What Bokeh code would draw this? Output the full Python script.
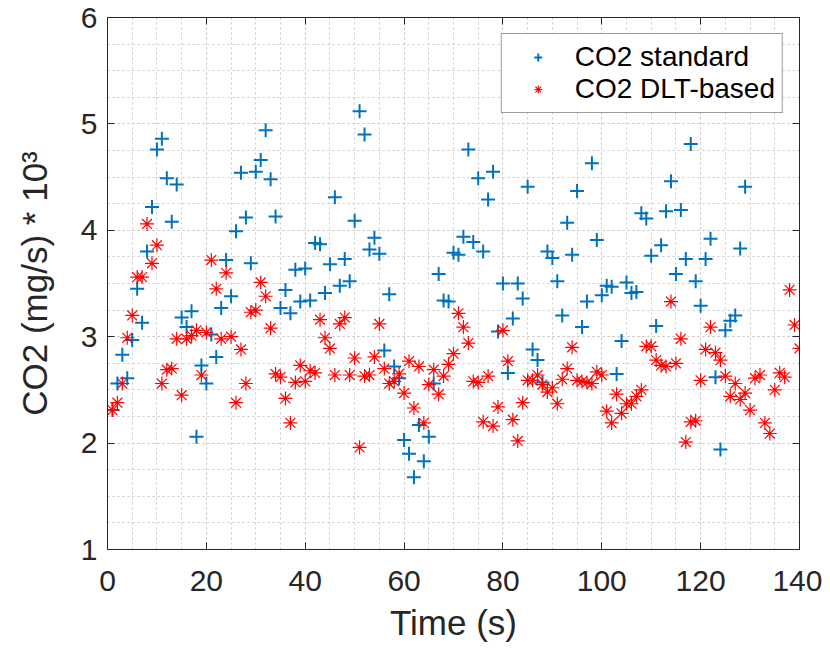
from bokeh.plotting import figure
from bokeh.models import Range1d, LinearAxis, SingleIntervalTicker, CustomJSTickFormatter
from bokeh.embed import file_html
from bokeh.resources import INLINE

# Time (s)
t_std = list(range(1, 130))
t_dlt = list(range(1, 141))

# CO2 standard (mg/s * 10^3)
co2_std = [
    2.31, 2.56, 2.83, 2.61, 2.97, 3.45, 3.13, 3.80, 4.22, 4.76,
    4.86, 4.49, 4.08, 4.43, 3.18, 3.09, 3.24, 2.06, 2.73, 2.56,
    3.02, 2.81, 3.27, 3.72, 3.38, 3.99, 4.54, 4.12, 3.69, 4.55,
    4.66, 4.94, 4.48, 4.13, 3.27, 3.44, 3.22, 3.63, 3.33, 3.64,
    3.34, 3.88, 3.87, 3.41, 3.68, 4.31, 3.48, 3.73, 3.52, 4.09,
    5.12, 4.90, 3.82, 3.93, 3.78, 2.87, 3.40, 2.72, 2.61, 2.03,
    1.90, 1.68, 2.17, 1.83, 2.06, 2.56, 3.59, 3.34, 3.33, 3.79,
    3.77, 3.94, 4.76, 3.89, 4.49, 3.80, 4.29, 4.55, 3.05, 3.50,
    2.66, 3.17, 3.50, 3.36, 4.41, 2.88, 2.78, 2.57, 3.80, 3.74,
    3.52, 3.20, 4.07, 3.77, 4.37, 3.09, 3.33, 4.63, 3.91, 3.39,
    3.48, 3.47, 2.65, 2.96, 3.51, 3.41, 3.42, 4.16, 4.11, 3.76,
    3.10, 3.86, 4.18, 4.46, 3.59, 4.19, 3.73, 4.81, 3.52, 3.29,
    3.73, 3.92, 2.62, 1.94, 3.06, 3.15, 3.20, 3.83, 4.41,
]

# CO2 DLT-based (mg/s * 10^3)
co2_dlt = [
    2.31, 2.38, 2.56, 2.99, 3.20, 3.56, 3.56, 4.06, 3.69, 3.86,
    2.56, 2.69, 2.70, 2.98, 2.45, 2.98, 3.01, 3.06, 2.64, 3.04,
    3.72, 3.45, 2.98, 3.60, 3.00, 2.38, 2.88, 2.56, 3.23, 3.25,
    3.51, 3.38, 3.08, 2.65, 2.62, 2.42, 2.19, 2.57, 2.73, 2.58,
    2.68, 2.66, 3.16, 2.99, 2.89, 2.64, 3.12, 3.18, 2.64, 2.80,
    1.96, 2.63, 2.64, 2.81, 3.12, 2.70, 2.56, 2.58, 2.65, 2.47,
    2.77, 2.33, 2.72, 2.19, 2.55, 2.69, 2.46, 2.63, 2.74, 2.84,
    3.22, 3.09, 2.94, 2.58, 2.57, 2.20, 2.63, 2.16, 2.34, 3.06,
    2.77, 2.22, 2.02, 2.38, 2.59, 2.59, 2.64, 2.55, 2.48, 2.52,
    2.37, 2.60, 2.70, 2.90, 2.59, 2.58, 2.57, 2.56, 2.67, 2.64,
    2.30, 2.19, 2.46, 2.28, 2.37, 2.37, 2.44, 2.50, 2.91, 2.91,
    2.78, 2.73, 2.72, 3.33, 2.75, 2.98, 2.01, 2.20, 2.21, 2.59,
    2.88, 3.09, 2.85, 2.78, 2.63, 2.44, 2.56, 2.41, 2.47, 2.31,
    2.61, 2.64, 2.19, 2.09, 2.50, 2.66, 2.62, 3.44, 3.11, 2.89,
]

x_ticks_interval = 20
y_ticks_interval = 1

FONT = "Liberation Sans"
AX = "#262626"

p = figure(width=822, height=644, x_range=Range1d(0, 140), y_range=Range1d(1, 6),
           output_backend="svg", toolbar_location=None,
           min_border_left=107, min_border_right=23, min_border_top=17, min_border_bottom=93)
p.outline_line_color = None
p.background_fill_color = "white"
p.border_fill_color = "white"

xt = SingleIntervalTicker(interval=x_ticks_interval, num_minor_ticks=4)
yt = SingleIntervalTicker(interval=y_ticks_interval, num_minor_ticks=4)
p.xaxis.ticker = xt
p.yaxis.ticker = yt

for ax in (p.xaxis[0], p.yaxis[0]):
    ax.axis_line_color = AX
    ax.major_tick_line_color = AX
    ax.major_tick_in = 7
    ax.major_tick_out = 0
    ax.minor_tick_in = 0
    ax.minor_tick_out = 0
    ax.major_label_text_font = FONT
    ax.major_label_text_font_size = "30px"
    ax.major_label_text_color = AX
    ax.axis_label_text_font = FONT
    ax.axis_label_text_font_style = "normal"
    ax.axis_label_text_color = AX
    ax.axis_label_text_font_size = "35px"

p.xaxis.axis_label = "Time (s)"
p.yaxis.axis_label = "CO2 (mg/s) * 10\u00b3"
p.xaxis.major_label_standoff = 21
p.yaxis.major_label_standoff = 10
p.xaxis.axis_label_standoff = 9
p.yaxis.axis_label_standoff = 24

blank = CustomJSTickFormatter(code="return ''")
top = LinearAxis(ticker=SingleIntervalTicker(interval=x_ticks_interval, num_minor_ticks=4), formatter=blank)
right = LinearAxis(ticker=SingleIntervalTicker(interval=y_ticks_interval, num_minor_ticks=4), formatter=blank)
for ax in (top, right):
    ax.axis_line_color = AX
    ax.major_tick_line_color = AX
    ax.major_tick_in = 7
    ax.major_tick_out = 0
    ax.minor_tick_in = 0
    ax.minor_tick_out = 0
    ax.major_label_text_font_size = "1px"
    ax.major_label_standoff = 0
p.add_layout(top, "above")
p.add_layout(right, "right")

for g in (p.xgrid[0], p.ygrid[0]):
    g.grid_line_color = "#c8c8c8"
    g.grid_line_dash = "2 3"
    g.grid_line_width = 1
    g.minor_grid_line_color = "#c8c8c8"
    g.minor_grid_line_dash = "2 3"
    g.minor_grid_line_width = 1
p.xgrid[0].ticker = xt
p.ygrid[0].ticker = yt

p.scatter(t_std, co2_std, marker="cross", size=14, line_width=2, line_color="#0072BD",
          legend_label="CO2 standard")
p.scatter(t_dlt, co2_dlt, marker="asterisk", size=14, line_width=1.2, line_color="#FF0000",
          legend_label="CO2 DLT-based")

lg = p.legend[0]
lg.location = "top_right"
lg.margin = 16
lg.padding = 7
lg.spacing = 0
lg.glyph_width = 58
lg.glyph_height = 20
lg.label_height = 28
lg.label_standoff = 8
lg.label_text_font = FONT
lg.label_text_font_size = "28px"
lg.label_text_color = "black"
lg.border_line_color = "#3a3a3a"
lg.border_line_width = 1
lg.background_fill_color = "white"
lg.background_fill_alpha = 1.0

open("out.html", "w").write(file_html(p, INLINE))
